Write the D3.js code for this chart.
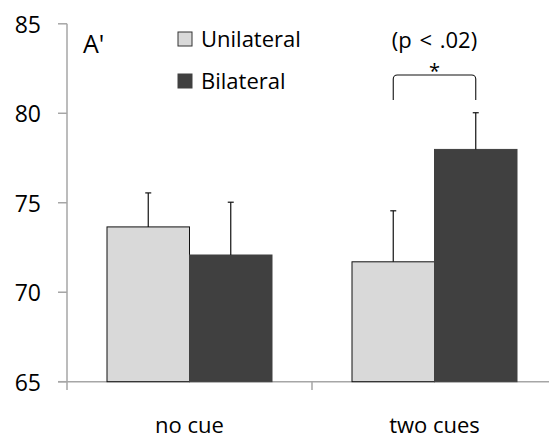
<!DOCTYPE html>
<html>
<head>
<meta charset="utf-8">
<script src="https://cdn.jsdelivr.net/npm/d3@7"></script>
<style>
  html,body{margin:0;padding:0;background:#fff;}
  svg{display:block;font-family:"Open Sans",sans-serif;}
</style>
</head>
<body>
<div id="chart"></div>
<script>
const categories=['no cue','two cues'];
const series=['Unilateral','Bilateral'];
const unilateral=[73.65,71.7];
const bilateral=[72.08,77.98];
const unilateralErr=[1.9,2.85];
const bilateralErr=[2.95,2.05];
const yTicks=[65,70,75,80,85];
const colors=['#d9d9d9','#404040'];

const W=549,H=439;
const svg=d3.select('#chart').append('svg').attr('width',W).attr('height',H);

const y=d3.scaleLinear().domain([65,85]).range([381.7,23.8]);
const x=d3.scaleBand().domain(categories).range([67,557]);
const x1=d3.scaleBand().domain(series).range([40,x.bandwidth()-40]);

const rows=categories.map((c,i)=>series.map((s,j)=>({
  cat:c, s, v:j===0?unilateral[i]:bilateral[i], e:j===0?unilateralErr[i]:bilateralErr[i], color:colors[j]
}))).flat();

// axes
const axisCol='#a6a6a6';
const ax=svg.append('g');
ax.append('line').attr('x1',67).attr('x2',67).attr('y1',y(85)).attr('y2',390)
  .attr('stroke',axisCol).attr('stroke-width',1.5);
ax.selectAll('.yt').data(yTicks).join('line')
  .attr('x1',58).attr('x2',67).attr('y1',d=>y(d)).attr('y2',d=>y(d))
  .attr('stroke',axisCol).attr('stroke-width',1.5);
ax.selectAll('.yl').data(yTicks).join('text')
  .attr('x',41).attr('y',d=>y(d)).attr('text-anchor','end').attr('dominant-baseline','central')
  .attr('font-size',23).attr('fill','#000').text(d=>d);

// bars
const bars=svg.append('g');
bars.selectAll('rect').data(rows).join('rect')
  .attr('x',d=>x(d.cat)+x1(d.s)).attr('width',x1.bandwidth())
  .attr('y',d=>y(d.v)).attr('height',d=>y(65)-y(d.v))
  .attr('fill',d=>d.color).attr('stroke',d=>d.s==='Unilateral'?'#111':'#404040').attr('stroke-width',1);

// error bars
const eb=svg.append('g').attr('stroke','#111').attr('stroke-width',1.2);
rows.forEach(d=>{
  const cx=x(d.cat)+x1(d.s)+x1.bandwidth()/2;
  eb.append('line').attr('x1',cx).attr('x2',cx).attr('y1',y(d.v)).attr('y2',y(d.v+d.e));
  eb.append('line').attr('x1',cx-3).attr('x2',cx+3).attr('y1',y(d.v+d.e)).attr('y2',y(d.v+d.e));
});

// x axis
ax.append('line').attr('x1',58).attr('x2',W).attr('y1',y(65)).attr('y2',y(65))
  .attr('stroke',axisCol).attr('stroke-width',1.5);
ax.append('line').attr('x1',x(categories[1])).attr('x2',x(categories[1])).attr('y1',y(65)).attr('y2',390)
  .attr('stroke',axisCol).attr('stroke-width',1.5);
svg.selectAll('.xl').data(categories).join('text')
  .attr('x',d=>x(d)+x.bandwidth()/2).attr('y',433).attr('text-anchor','middle')
  .attr('font-size',22).attr('fill','#000').text(d=>d);

// label A'
svg.append('text').attr('x',83).attr('y',53).attr('font-size',25).attr('fill','#000').text("A'");

// legend
const lg=svg.append('g').attr('transform','translate(178,32)');
series.forEach((s,i)=>{
  lg.append('rect').attr('x',0).attr('y',i*42).attr('width',14).attr('height',14)
    .attr('fill',colors[i]).attr('stroke',i===0?'#333':colors[i]).attr('stroke-width',1);
  lg.append('text').attr('x',23).attr('y',i*42+15).attr('font-size',22).attr('fill','#000').text(s);
});

// significance bracket
const bx0=x(categories[1])+x1('Unilateral')+x1.bandwidth()/2;
const bx1=x(categories[1])+x1('Bilateral')+x1.bandwidth()/2;
const by0=75, by1=100;
const p=d3.path();
p.moveTo(bx0,by1);p.arcTo(bx0,by0,bx0+10,by0,4);p.lineTo(bx1-4,by0);p.arcTo(bx1,by0,bx1,by1,4);p.lineTo(bx1,by1);
svg.append('path').attr('d',p.toString()).attr('fill','none').attr('stroke','#111').attr('stroke-width',1.1);
svg.append('text').attr('x',(bx0+bx1)/2).attr('y',78).attr('text-anchor','middle').attr('font-size',20).attr('fill','#000').text('*');
svg.append('text').attr('x',(bx0+bx1)/2).attr('y',48).attr('text-anchor','middle').attr('font-size',22)
  .attr('word-spacing',2).attr('fill','#000').text('(p < .02)');
</script>
</body>
</html>
